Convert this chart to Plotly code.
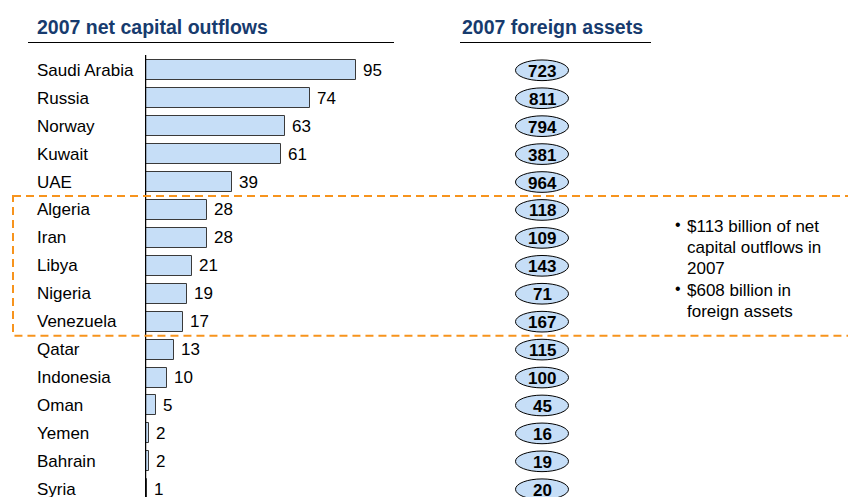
import plotly.graph_objects as go

countries = ["Saudi Arabia", "Russia", "Norway", "Kuwait", "UAE", "Algeria", "Iran", "Libya",
             "Nigeria", "Venezuela", "Qatar", "Indonesia", "Oman", "Yemen", "Bahrain", "Syria"]
outflows = [95, 74, 63, 61, 39, 28, 28, 21, 19, 17, 13, 10, 5, 2, 2, 1]
foreign_assets = [723, 811, 794, 381, 964, 118, 109, 143, 71, 167, 115, 100, 45, 16, 19, 20]
highlight = ["Algeria", "Venezuela"]  # first and last of the boxed group
title_left = "2007 net capital outflows"
title_right = "2007 foreign assets"
bullets = ["$113 billion of net", "capital outflows in", "2007", "$608 billion in", "foreign assets"]

W, H = 848, 497
FONT = "Liberation Sans, Arial, sans-serif"
NAVY = "#173B6E"
FILL = "#C6DEF7"
EDGE = "#3a3a3a"
ORANGE = "#F7941D"

idx = list(range(len(countries)))

fig = go.Figure()
fig.add_trace(go.Bar(
    x=outflows, y=idx, orientation="h", width=0.716,
    marker=dict(color=FILL, line=dict(color=EDGE, width=1)),
    hoverinfo="skip", showlegend=False,
))

ann = []
shapes = []
for i, (c, v, fa) in enumerate(zip(countries, outflows, foreign_assets)):
    ann.append(dict(x=35 / W, xref="paper", y=i, yref="y", text=c, showarrow=False,
                    xanchor="left", yanchor="middle", font=dict(size=17, color="#000000", family=FONT)))
    ann.append(dict(x=v, xref="x", y=i, yref="y", text=str(v), showarrow=False,
                    xanchor="left", yanchor="middle", xshift=5,
                    font=dict(size=17, color="#000000", family=FONT)))
    # ellipse for foreign assets
    shapes.append(dict(type="circle", xref="paper", yref="y",
                       x0=515.5 / W, x1=568.5 / W, y0=i - 0.37, y1=i + 0.37,
                       fillcolor=FILL, line=dict(color="#000000", width=1), layer="below"))
    ann.append(dict(x=542 / W, xref="paper", y=i, yref="y", text="<b>%d</b>" % fa, showarrow=False,
                    xanchor="center", yanchor="middle", yshift=-1,
                    font=dict(size=17, color="#000000", family=FONT)))

# titles
ann.append(dict(x=35 / W, xref="paper", y=1 - 27 / H, yref="paper", text="<b>%s</b>" % title_left,
                showarrow=False, xanchor="left", yanchor="middle",
                font=dict(size=19.5, color=NAVY, family=FONT)))
ann.append(dict(x=460 / W, xref="paper", y=1 - 27 / H, yref="paper", text="<b>%s</b>" % title_right,
                showarrow=False, xanchor="left", yanchor="middle",
                font=dict(size=19.5, color=NAVY, family=FONT)))
shapes.append(dict(type="line", xref="paper", yref="paper", x0=28 / W, x1=394 / W,
                   y0=1 - 42.5 / H, y1=1 - 42.5 / H, line=dict(color="#000000", width=1)))
shapes.append(dict(type="line", xref="paper", yref="paper", x0=460 / W, x1=651 / W,
                   y0=1 - 42.5 / H, y1=1 - 42.5 / H, line=dict(color="#000000", width=1)))

# axis line
shapes.append(dict(type="line", xref="x", yref="paper", x0=0, x1=0,
                   y0=0, y1=1 - 55 / H, line=dict(color="#000000", width=2.5)))

# dashed highlight box
i0 = countries.index(highlight[0]) - 0.5
i1 = countries.index(highlight[1]) + 0.5
shapes.append(dict(type="rect", xref="paper", yref="y", x0=13 / W, x1=1.05, y0=i0, y1=i1,
                   line=dict(color=ORANGE, width=2, dash="8px,5px"), fillcolor="rgba(0,0,0,0)"))

# bullets
line_y = [226.5, 247.5, 268.5, 290, 311]
for k, (t, yy) in enumerate(zip(bullets, line_y)):
    ann.append(dict(x=685 / W, xref="paper", y=1 - yy / H, yref="paper", text=t, showarrow=False,
                    xanchor="left", yanchor="middle", font=dict(size=17, color="#000000", family=FONT)))
for yy in (line_y[0], line_y[3]):
    ann.append(dict(x=673 / W, xref="paper", y=1 - (yy - 2) / H, yref="paper", text="•", showarrow=False,
                    xanchor="left", yanchor="middle", font=dict(size=16, color="#000000", family=FONT)))

fig.update_layout(
    width=W, height=H, margin=dict(l=0, r=0, t=0, b=0),
    paper_bgcolor="white", plot_bgcolor="white",
    xaxis=dict(domain=[145 / W, 445 / W], range=[0, 300 / 2.226], visible=False, fixedrange=True),
    yaxis=dict(domain=[0, 1], range=[(H - 70.3) / 27.93, -70.3 / 27.93], visible=False, fixedrange=True),
    annotations=ann, shapes=shapes, bargap=0,
)
fig.write_html("out.html", config={"displayModeBar": False},
               post_script="document.body.style.margin='0';document.body.style.overflow='hidden';")
